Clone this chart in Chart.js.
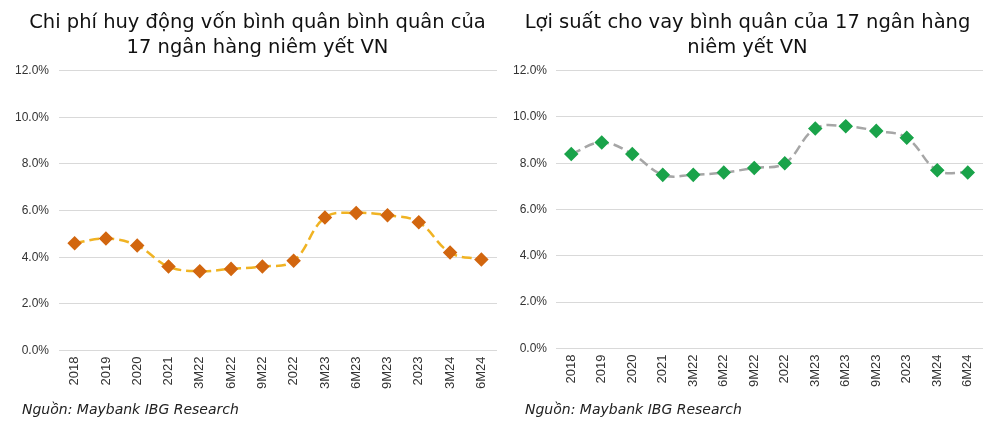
<!DOCTYPE html>
<html>
<head>
<meta charset="utf-8">
<script src="https://cdn.jsdelivr.net/npm/chart.js@4/dist/chart.umd.min.js"></script>
<style>
  body { margin: 0; background: #fff; }
  .box { position: absolute; top: 0; height: 432px; }
  .src { position: absolute; top: 401px; font: italic 14px/17px 'DejaVu Sans', sans-serif; color: #222; white-space: nowrap; }
</style>
</head>
<body>
<div class="box" style="left:0;width:505px"><canvas id="chartCost"></canvas></div>
<div class="box" style="left:500px;width:500px"><canvas id="chartYield"></canvas></div>
<div class="src" id="srcCost" style="left:22px"></div>
<div class="src" id="srcYield" style="left:525px"></div>
<script>
const periods = ['2018', '2019', '2020', '2021', '3M22', '6M22', '9M22', '2022', '3M23', '6M23', '9M23', '2023', '3M24', '6M24'];
const costOfFunds = [4.6, 4.8, 4.5, 3.6, 3.4, 3.5, 3.6, 3.85, 5.7, 5.9, 5.8, 5.5, 4.2, 3.9];
const lendingYield = [8.4, 8.9, 8.4, 7.5, 7.5, 7.6, 7.8, 8.0, 9.5, 9.6, 9.4, 9.1, 7.7, 7.6];
const titleCost = ['Chi phí huy động vốn bình quân bình quân của', '17 ngân hàng niêm yết VN'];
const titleYield = ['Lợi suất cho vay bình quân của 17 ngân hàng', 'niêm yết VN'];
const sourceText = 'Nguồn: Maybank IBG Research';

document.getElementById('srcCost').textContent = sourceText;
document.getElementById('srcYield').textContent = sourceText;

function makeChart(id, title, values, lineColor, pointColor, opts) {
  const ctx = document.getElementById(id).getContext('2d');
  return new Chart(ctx, {
    type: 'line',
    data: {
      labels: periods,
      datasets: [{
        data: values,
        borderColor: lineColor,
        borderWidth: 2.5,
        borderDash: [10, 5],
        tension: 0.4,
        pointStyle: 'rectRot',
        pointRadius: 5.5,
        pointBackgroundColor: pointColor,
        pointBorderColor: pointColor,
        fill: false,
      }]
    },
    options: {
      responsive: true,
      maintainAspectRatio: false,
      animation: false,
      layout: { padding: { left: opts.left, right: opts.right, top: 0, bottom: opts.bottom } },
      plugins: {
        legend: { display: false },
        tooltip: { enabled: false },
        title: {
          display: true,
          text: title,
          color: '#111',
          font: { family: 'DejaVu Sans', size: 19.5, weight: 'normal', lineHeight: 1.3 },
          padding: { top: 10, bottom: 10 },
        },
      },
      scales: {
        x: {
          offset: true,
          grid: { display: false, drawTicks: false },
          border: { display: false },
          ticks: {
            color: '#333',
            font: { family: 'Liberation Sans', size: 13 },
            maxRotation: 90,
            minRotation: 90,
            padding: 6,
            autoSkip: false,
          },
        },
        y: {
          min: 0,
          max: 12,
          grid: { color: '#d9d9d9', drawTicks: false, lineWidth: 1 },
          border: { display: false },
          afterFit: (scale) => { scale.width = opts.yWidth; },
          ticks: {
            stepSize: 2,
            color: '#333',
            font: { family: 'Liberation Sans', size: 12 },
            padding: opts.tickPad,
            callback: (v) => v.toFixed(1) + '%',
          },
        },
      },
    },
  });
}

makeChart('chartCost', titleCost, costOfFunds, '#f0b323', '#d2660f', { left: 10, right: 0, yWidth: 49, bottom: 37, tickPad: 10 });
makeChart('chartYield', titleYield, lendingYield, '#a6a6a6', '#1aa34a', { left: 12, right: 17, yWidth: 44, bottom: 39, tickPad: 9 });
</script>
</body>
</html>
